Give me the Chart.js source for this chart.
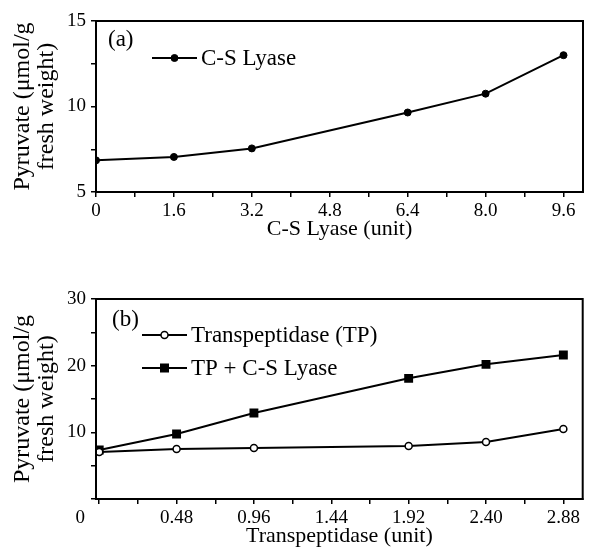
<!DOCTYPE html>
<html>
<head>
<meta charset="utf-8">
<script src="https://cdn.jsdelivr.net/npm/chart.js@4.4.1/dist/chart.umd.min.js"></script>
<style>
    html, body { margin: 0; padding: 0; background: #fff; }
    #wrap { position: relative; width: 589px; height: 549px; }
    canvas { position: absolute; left: 0; }
    #chartA { top: 0; }
    #chartB { top: 242px; }
</style>
</head>
<body>
<div id="wrap">
    <canvas id="chartA" width="589" height="242"></canvas>
    <canvas id="chartB" width="589" height="307"></canvas>
</div>
<script>
// (a) C-S Lyase alone
const lyaseUnits = [0, 1.6, 3.2, 6.4, 8.0, 9.6];
const lyasePyruvate = [6.85, 7.05, 7.55, 9.65, 10.75, 13.0];
const lyaseTicks = [0, 1.6, 3.2, 4.8, 6.4, 8.0, 9.6];
const lyaseTickLabels = ['0', '1.6', '3.2', '4.8', '6.4', '8.0', '9.6'];
const lyaseMinorTicks = [0.8, 2.4, 4.0, 5.6, 7.2, 8.8];
const pyruvateTicksA = [5, 10, 15];
const pyruvateTickLabelsA = ['5', '10', '15'];
const pyruvateMinorA = [7.5, 12.5];

// (b) Transpeptidase, with and without C-S Lyase
const tpUnits = [0, 0.48, 0.96, 1.92, 2.40, 2.88];
const tpPyruvate = [7.05, 7.5, 7.65, 7.95, 8.55, 10.5];
const tpLyasePyruvate = [7.35, 9.75, 12.9, 18.1, 20.2, 21.6];
const tpTicks = [0, 0.48, 0.96, 1.44, 1.92, 2.40, 2.88];
const tpTickLabels = ['0', '0.48', '0.96', '1.44', '1.92', '2.40', '2.88'];
const tpMinorTicks = [0.24, 0.72, 1.20, 1.68, 2.16, 2.64];
const pyruvateTicksB = [0, 10, 20, 30];
const pyruvateTickLabelsB = ['', '10', '20', '30'];
const pyruvateMinorB = [5, 15, 25];

const SERIF = '"Liberation Serif", "Times New Roman", serif';
Chart.defaults.font.family = SERIF;
Chart.defaults.color = '#000';

// major + minor tick marks, labels only on the major ones
function tickAxis(major, minor, labels, opts) {
    return {
        type: 'linear',
        min: opts.min,
        max: opts.max,
        position: opts.position,
        afterBuildTicks: (scale) => {
            scale.ticks = major.concat(minor).sort((a, b) => a - b).map(v => ({ value: v }));
        },
        afterFit: (scale) => {
            if (opts.width) scale.width = opts.width;
            if (opts.height) scale.height = opts.height;
        },
        ticks: {
            autoSkip: false,
            maxRotation: 0,
            padding: opts.position === 'left' ? 5 : 3,
            font: { size: 19 },
            callback: (value) => {
                const i = major.findIndex(m => Math.abs(m - value) < 1e-9);
                if (i < 0) return '';
                return opts.shiftFirst && i === 0 ? labels[i] + '\u00a0'.repeat(8) : labels[i];
            }
        },
        grid: { drawOnChartArea: false, drawTicks: true, tickLength: 5, color: '#000', lineWidth: 1.5 },
        border: { display: true, color: '#000', width: 2 },
        title: opts.title
    };
}

const framePlugin = {
    id: 'frame',
    afterDraw(chart) {
        const { ctx, chartArea: a } = chart;
        ctx.save();
        ctx.strokeStyle = '#000';
        ctx.lineWidth = 2;
        ctx.strokeRect(a.left, a.top, a.right - a.left, a.bottom - a.top);
        ctx.restore();
    }
};

// panel tag and in-plot legend
const panelLegend = {
    id: 'panelLegend',
    afterDraw(chart, args, opts) {
        const { ctx, chartArea: a } = chart;
        ctx.save();
        ctx.fillStyle = '#000';
        ctx.strokeStyle = '#000';
        ctx.font = '23px ' + SERIF;
        ctx.textBaseline = 'middle';
        ctx.textAlign = 'left';
        ctx.fillText(opts.tag, a.left + opts.tagDx, a.top + opts.tagDy);
        chart.data.datasets.forEach((ds, i) => {
            const y = a.top + opts.rowDy + i * opts.rowGap;
            const x0 = a.left + opts.lineDx;
            const x1 = x0 + opts.lineLen;
            const xm = (x0 + x1) / 2;
            ctx.lineWidth = 2;
            ctx.beginPath();
            ctx.moveTo(x0, y);
            ctx.lineTo(x1, y);
            ctx.stroke();
            if (ds.pointStyle === 'rect') {
                ctx.fillRect(xm - 4.5, y - 4.5, 9, 9);
            } else {
                ctx.beginPath();
                ctx.arc(xm, y, ds.pointRadius, 0, Math.PI * 2);
                ctx.fillStyle = ds.pointBackgroundColor;
                ctx.fill();
                ctx.lineWidth = ds.pointBorderWidth;
                ctx.stroke();
                ctx.fillStyle = '#000';
            }
            ctx.fillText(ds.label, x1 + 4, y + 1);
        });
        ctx.restore();
    }
};

const yTitle = {
    display: true,
    text: ['Pyruvate (\u03bcmol/g', 'fresh weight)'],
    font: { size: 24, lineHeight: 1.0 },
    padding: { top: 11, bottom: 0 }
};

function line(label, xs, ys, style) {
    return Object.assign({
        label: label,
        data: xs.map((x, i) => ({ x: x, y: ys[i] })),
        borderColor: '#000',
        borderWidth: 2,
        tension: 0,
        pointBorderColor: '#000',
        pointHoverRadius: 0
    }, style);
}

new Chart(document.getElementById('chartA'), {
    type: 'line',
    data: {
        datasets: [
            line('C-S Lyase', lyaseUnits, lyasePyruvate, {
                pointStyle: 'circle', pointRadius: 3.5, pointBorderWidth: 1,
                pointBackgroundColor: '#000'
            })
        ]
    },
    options: {
        responsive: false,
        animation: false,
        layout: { padding: { top: 21, right: 6, left: 0, bottom: 0 } },
        plugins: {
            legend: { display: false },
            tooltip: { enabled: false },
            panelLegend: { tag: '(a)', tagDx: 12, tagDy: 19, lineDx: 56, lineLen: 45, rowDy: 37, rowGap: 0 }
        },
        scales: {
            x: tickAxis(lyaseTicks, lyaseMinorTicks, lyaseTickLabels, {
                min: 0, max: 10, position: 'bottom', height: 50,
                title: { display: true, text: 'C-S Lyase (unit)', font: { size: 22 }, padding: { top: 0, bottom: 0 } }
            }),
            y: tickAxis(pyruvateTicksA, pyruvateMinorA, pyruvateTickLabelsA, {
                min: 5, max: 15, position: 'left', width: 96, title: yTitle
            })
        }
    },
    plugins: [framePlugin, panelLegend]
});

new Chart(document.getElementById('chartB'), {
    type: 'line',
    data: {
        datasets: [
            line('Transpeptidase (TP)', tpUnits, tpPyruvate, {
                pointStyle: 'circle', pointRadius: 3.5, pointBorderWidth: 1.5,
                pointBackgroundColor: '#fff'
            }),
            line('TP + C-S Lyase', tpUnits, tpLyasePyruvate, {
                pointStyle: 'rect', pointRadius: 6.3, pointBorderWidth: 0,
                pointBackgroundColor: '#000'
            })
        ]
    },
    options: {
        responsive: false,
        animation: false,
        layout: { padding: { top: 57, right: 4, left: 0, bottom: 0 } },
        plugins: {
            legend: { display: false },
            tooltip: { enabled: false },
            panelLegend: { tag: '(b)', tagDx: 16, tagDy: 21, lineDx: 46, lineLen: 45, rowDy: 36, rowGap: 33 }
        },
        scales: {
            x: tickAxis(tpTicks, tpMinorTicks, tpTickLabels, {
                min: -0.02, max: 3.0, position: 'bottom', height: 50, shiftFirst: true,
                title: { display: true, text: 'Transpeptidase (unit)', font: { size: 22 }, padding: { top: 0, bottom: 0 } }
            }),
            y: tickAxis(pyruvateTicksB, pyruvateMinorB, pyruvateTickLabelsB, {
                min: 0, max: 30, position: 'left', width: 96, title: yTitle
            })
        }
    },
    plugins: [framePlugin, panelLegend]
});
</script>
</body>
</html>
